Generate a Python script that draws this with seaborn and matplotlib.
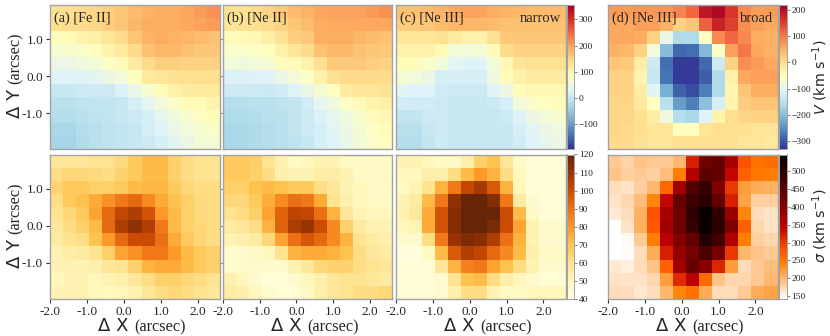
import matplotlib
matplotlib.use('Agg')
import matplotlib.pyplot as plt
import numpy as np
import seaborn as sns

sns.set_style('white')
plt.rcParams['font.family'] = ['Liberation Serif', 'DejaVu Serif']
plt.rcParams['mathtext.fontset'] = 'dejavusans'

# velocity maps, km/s, top row of cells first
v_fe2 = [
    [130, 135, 140, 145, 155, 165, 175, 185, 190, 190, 195, 205, 215],
    [135, 140, 140, 145, 155, 165, 180, 190, 190, 190, 195, 200, 205],
    [85, 90, 100, 110, 125, 140, 165, 185, 190, 185, 180, 175, 170],
    [65, 65, 70, 80, 100, 120, 140, 170, 180, 180, 170, 165, 165],
    [45, 45, 50, 60, 75, 90, 115, 140, 155, 155, 150, 150, 150],
    [25, 25, 28, 32, 45, 55, 80, 120, 125, 130, 135, 135, 135],
    [0, 0, 5, 5, 5, 20, 40, 65, 85, 105, 115, 120, 120],
    [-15, -15, -10, -5, -5, 0, 15, 35, 55, 70, 85, 85, 100],
    [-20, -20, -15, -10, -5, 0, 5, 15, 35, 50, 65, 75, 85],
    [-30, -30, -20, -15, -10, -5, 0, 15, 25, 40, 55, 65, 70],
    [-35, -35, -25, -15, -10, -5, 0, 5, 15, 30, 45, 60, 60],
]
v_ne2 = [
    [130, 135, 140, 150, 160, 175, 185, 195, 200, 200, 200, 205, 215],
    [125, 130, 135, 140, 150, 165, 175, 190, 195, 195, 195, 195, 195],
    [90, 90, 95, 110, 130, 155, 160, 190, 190, 190, 180, 175, 170],
    [70, 70, 75, 80, 105, 125, 140, 170, 180, 180, 170, 165, 160],
    [55, 50, 55, 60, 85, 90, 105, 135, 160, 160, 160, 155, 150],
    [20, 20, 22, 25, 45, 60, 75, 105, 130, 140, 140, 140, 140],
    [5, 5, 5, 3, 10, 25, 45, 60, 80, 115, 125, 125, 130],
    [-20, -20, -15, -15, -10, -5, 10, 35, 50, 75, 90, 100, 110],
    [-25, -25, -20, -15, -15, -5, 5, 20, 35, 50, 65, 85, 95],
    [-30, -30, -25, -20, -15, -5, 5, 15, 30, 45, 60, 75, 85],
    [-30, -30, -25, -20, -15, -10, 0, 15, 25, 40, 55, 70, 80],
]
v_ne3_narrow = [
    [170, 170, 175, 185, 195, 200, 200, 190, 185, 180, 175, 175, 175],
    [155, 160, 165, 175, 180, 180, 180, 175, 170, 170, 170, 170, 170],
    [125, 125, 125, 130, 115, 105, 105, 130, 160, 165, 165, 165, 165],
    [105, 105, 105, 90, 60, 55, 60, 90, 140, 150, 150, 150, 150],
    [85, 85, 70, 55, 30, 25, 25, 55, 95, 125, 130, 130, 130],
    [60, 55, 45, 15, 15, 15, 15, 50, 85, 105, 115, 115, 115],
    [30, 25, 25, 10, 5, 5, 5, 25, 45, 85, 95, 95, 95],
    [10, 10, 10, 5, 0, 0, 0, 5, 15, 55, 70, 80, 85],
    [-5, -5, 5, 5, 0, 0, 0, 0, 5, 25, 45, 55, 65],
    [-15, -15, 0, 5, 0, 0, 0, 0, 0, 15, 30, 45, 50],
    [-20, -20, -5, 5, 0, 0, 0, 0, 0, 10, 25, 35, 45],
]
v_ne3_broad = [
    [70, 70, 75, 75, 75, 90, 115, 190, 210, 160, 85, 70, 70],
    [60, 60, 65, 65, 50, 15, 30, 120, 180, 150, 80, 65, 60],
    [60, 60, 55, 15, -95, -160, -160, -60, 85, 115, 85, 55, 50],
    [50, 45, 15, -80, -200, -285, -280, -205, -60, 65, 100, 60, 50],
    [30, 25, -25, -130, -280, -325, -325, -285, -130, 15, 80, 70, 60],
    [15, 15, -35, -135, -275, -325, -325, -295, -160, -30, 60, 65, 65],
    [15, 15, -25, -105, -215, -290, -310, -265, -160, -40, 30, 55, 55],
    [10, 10, -15, -55, -150, -235, -265, -195, -120, -35, 20, 30, 30],
    [10, 10, 0, -25, -85, -155, -165, -110, -35, 0, 10, 15, 15],
    [10, 5, 0, -10, -10, -55, -55, -10, 0, 0, 0, -10, -10],
    [5, 5, -5, -10, -10, 0, 0, 0, 0, -5, -10, -10, -15],
]

# dispersion maps, km/s
s_fe2 = [
    [58, 58, 58, 60, 60, 63, 68, 72, 72, 66, 62, 60, 60],
    [62, 64, 64, 63, 62, 65, 68, 72, 72, 66, 62, 60, 60],
    [65, 68, 68, 66, 66, 68, 72, 73, 73, 68, 64, 62, 62],
    [62, 68, 70, 76, 82, 88, 92, 84, 76, 70, 66, 63, 62],
    [60, 64, 68, 78, 92, 102, 106, 98, 80, 72, 66, 63, 62],
    [58, 62, 66, 72, 92, 106, 112, 105, 88, 72, 66, 64, 62],
    [56, 60, 62, 70, 80, 92, 100, 100, 90, 76, 68, 64, 62],
    [52, 55, 56, 60, 66, 78, 82, 88, 88, 80, 72, 68, 66],
    [52, 52, 52, 54, 58, 60, 66, 74, 76, 76, 72, 68, 66],
    [50, 52, 52, 50, 52, 54, 58, 62, 66, 66, 64, 62, 60],
    [52, 52, 52, 50, 49, 50, 52, 58, 62, 64, 62, 60, 58],
]
s_ne2 = [
    [68, 68, 66, 60, 53, 48, 50, 52, 52, 48, 48, 48, 48],
    [68, 68, 66, 62, 54, 52, 52, 55, 55, 52, 48, 48, 48],
    [66, 66, 70, 72, 70, 68, 68, 62, 58, 52, 50, 48, 48],
    [64, 64, 68, 75, 84, 90, 88, 76, 60, 54, 50, 48, 48],
    [60, 62, 66, 78, 94, 103, 102, 90, 74, 58, 52, 50, 50],
    [56, 58, 62, 74, 94, 106, 110, 100, 84, 66, 56, 52, 52],
    [52, 54, 56, 64, 78, 90, 97, 92, 84, 74, 60, 56, 54],
    [46, 46, 48, 50, 60, 74, 76, 76, 74, 70, 62, 58, 56],
    [46, 46, 46, 46, 46, 52, 58, 64, 65, 65, 62, 60, 58],
    [54, 50, 46, 44, 44, 46, 50, 54, 58, 60, 60, 58, 56],
    [56, 54, 50, 46, 44, 44, 48, 54, 58, 60, 62, 62, 64],
]
s_ne3_narrow = [
    [52, 52, 50, 48, 48, 54, 66, 70, 58, 48, 44, 44, 44],
    [50, 50, 54, 54, 62, 72, 80, 74, 62, 50, 44, 44, 44],
    [48, 52, 60, 74, 88, 102, 108, 96, 74, 50, 44, 44, 44],
    [52, 56, 72, 88, 112, 120, 120, 114, 88, 56, 46, 44, 44],
    [52, 58, 76, 98, 114, 120, 120, 120, 100, 72, 48, 44, 44],
    [50, 52, 76, 98, 114, 120, 120, 116, 100, 78, 52, 46, 46],
    [45, 46, 62, 88, 110, 115, 113, 106, 90, 74, 52, 46, 46],
    [42, 42, 48, 72, 96, 105, 102, 92, 84, 72, 54, 48, 48],
    [44, 44, 44, 58, 74, 86, 88, 78, 70, 62, 52, 46, 46],
    [44, 44, 44, 46, 60, 70, 72, 62, 54, 50, 46, 44, 44],
    [44, 44, 44, 46, 54, 62, 62, 52, 48, 48, 50, 50, 50],
]
s_ne3_broad = [
    [185, 178, 190, 185, 185, 200, 320, 430, 440, 370, 280, 255, 260],
    [190, 180, 185, 180, 195, 245, 360, 450, 440, 340, 270, 250, 245],
    [170, 165, 180, 200, 265, 375, 460, 490, 410, 300, 220, 210, 205],
    [165, 175, 195, 240, 340, 440, 485, 500, 440, 320, 215, 180, 180],
    [160, 170, 205, 280, 370, 430, 495, 540, 495, 385, 240, 170, 165],
    [143, 165, 205, 275, 375, 430, 490, 535, 500, 410, 270, 175, 165],
    [143, 148, 185, 245, 350, 410, 440, 510, 480, 360, 245, 180, 175],
    [143, 146, 170, 210, 320, 390, 425, 470, 420, 300, 200, 190, 185],
    [160, 155, 170, 190, 270, 375, 440, 400, 315, 220, 170, 185, 195],
    [165, 165, 165, 175, 220, 310, 350, 260, 190, 175, 175, 185, 200],
    [170, 170, 160, 170, 200, 240, 255, 210, 170, 170, 185, 210, 215],
]

panel_names = ['(a) [Fe II]', '(b) [Ne II]', '(c) [Ne III]', '(d) [Ne III]']
top_maps = [v_fe2, v_ne2, v_ne3_narrow, v_ne3_broad]
bottom_maps = [s_fe2, s_ne2, s_ne3_narrow, s_ne3_broad]
xticks = [-2.0, -1.0, 0.0, 1.0, 2.0]
yticks = [1.0, 0.0, -1.0]
cb_ticks_v1 = [-100, 0, 100, 200, 300]
cb_ticks_v2 = [-300, -200, -100, 0, 100, 200]
cb_ticks_s1 = [40, 50, 60, 70, 80, 90, 100, 110, 120]
cb_ticks_s2 = [150, 200, 250, 300, 350, 400, 450, 500]

FRAME = '#a3a3a3'
W, H = 830, 336
CELL = 0.3538  # arcsec per spaxel
X0, Y0 = -2.0, 1.92


def px_axes(fig, left, top, right, bottom):
    return fig.add_axes([left / W, 1 - bottom / H, (right - left) / W, (bottom - top) / H])


def draw_map(ax, data, cmap, vmin, vmax, cax=None):
    sns.heatmap(np.array(data), ax=ax, cmap=cmap, vmin=vmin, vmax=vmax, cbar=cax is not None,
                cbar_ax=cax, xticklabels=False, yticklabels=False)
    for s in ax.spines.values():
        s.set_visible(True)
        s.set_color(FRAME)
        s.set_linewidth(1.0)


def style_cbar(cax, ticks):
    cax.set_yticks(ticks)
    cax.set_yticklabels([str(t).replace('-', '\u2212') for t in ticks], fontsize=6.8, color='#222222')
    cax.tick_params(axis='y', length=2, width=0.5, color='#555555', pad=1.5, right=True, labelright=True)
    for s in cax.spines.values():
        s.set_visible(True)
        s.set_color(FRAME)
        s.set_linewidth(0.7)


def axis_label(fig, name, left, top, vertical):
    # symbol is sans and larger, the unit stays serif, as two pieces of text
    if vertical:
        fig.text(20 / W, 1 - (top + 113) / H, '\u0394 ' + name, rotation=90, rotation_mode='anchor',
                 ha='left', va='baseline', fontsize=13, family='DejaVu Sans')
        fig.text(20 / W, 1 - (top + 79) / H, '(arcsec)', rotation=90, rotation_mode='anchor',
                 ha='left', va='baseline', fontsize=11.7)
    else:
        fig.text((left + 48) / W, 1 - 331 / H, '\u0394 ' + name, ha='left', va='baseline',
                 fontsize=13, family='DejaVu Sans')
        fig.text((left + 84) / W, 1 - 331 / H, '(arcsec)', ha='left', va='baseline', fontsize=11.7)


fig = plt.figure(figsize=(W / 100, H / 100), dpi=100)

lefts = [50, 223, 396, 608]
rights = [220, 392, 565.5, 777.5]
cb_x = [(566.5, 574), (779, 786.5)]

for i in range(4):
    ax_top = px_axes(fig, lefts[i], 5, rights[i], 149)
    ax_bot = px_axes(fig, lefts[i], 154.5, rights[i], 299)
    cax_top = cax_bot = None
    if i >= 2:
        c0, c1 = cb_x[i - 2]
        cax_top = px_axes(fig, c0, 5, c1, 149)
        cax_bot = px_axes(fig, c0, 154.5, c1, 299)

    if i < 3:
        draw_map(ax_top, top_maps[i], 'RdYlBu_r', -195, 355, cax_top)
        draw_map(ax_bot, bottom_maps[i], 'YlOrBr', 40, 120, cax_bot)
    else:
        draw_map(ax_top, top_maps[i], 'RdYlBu_r', -330, 219, cax_top)
        draw_map(ax_bot, bottom_maps[i], 'gist_heat_r', 142, 547, cax_bot)

    if i == 2:
        style_cbar(cax_top, cb_ticks_v1)
        style_cbar(cax_bot, cb_ticks_s1)
    if i == 3:
        style_cbar(cax_top, cb_ticks_v2)
        style_cbar(cax_bot, cb_ticks_s2)
        fig.text(820 / W, 1 - 77 / H, r'$V$ (km s$^{-1}$)', rotation=90, ha='center', va='center',
                 fontsize=10.3, family='DejaVu Sans')
        fig.text(820 / W, 1 - 226 / H, r'$\sigma$ (km s$^{-1}$)', rotation=90, ha='center', va='center',
                 fontsize=10.3, family='DejaVu Sans')

    for ax in (ax_top, ax_bot):
        ax.set_yticks([(Y0 - t) / CELL for t in yticks])
        ax.set_xticks([])
        if i == 0:
            ax.set_yticklabels(['%.1f' % t for t in yticks], fontsize=9.5)
            ax.tick_params(axis='y', length=3, width=0.8, color='#333333', pad=2, left=True)
        elif i == 1:
            ax.set_yticklabels([])
            ax.tick_params(axis='y', length=2, width=0.6, color='#777777', left=True)
        else:
            ax.set_yticks([])

    ax_bot.set_xticks([(t - X0) / CELL for t in xticks])
    ax_bot.set_xticklabels(['%.1f' % t for t in xticks], fontsize=9.5)
    ax_bot.tick_params(axis='x', length=3, width=0.8, color='#333333', pad=2, bottom=True)

    if i == 0:
        axis_label(fig, 'Y', 0, 5, True)
        axis_label(fig, 'Y', 0, 154.5, True)
    axis_label(fig, 'X', lefts[i], 0, False)

    ax_top.text(0.022, 0.91, panel_names[i], transform=ax_top.transAxes, fontsize=10.3, va='center', ha='left')

fig.text(561 / W, 1 - 18 / H, 'narrow', ha='right', va='center', fontsize=10.5)
fig.text(773 / W, 1 - 18 / H, 'broad', ha='right', va='center', fontsize=10.5)

fig.savefig('out.png', dpi=100)
